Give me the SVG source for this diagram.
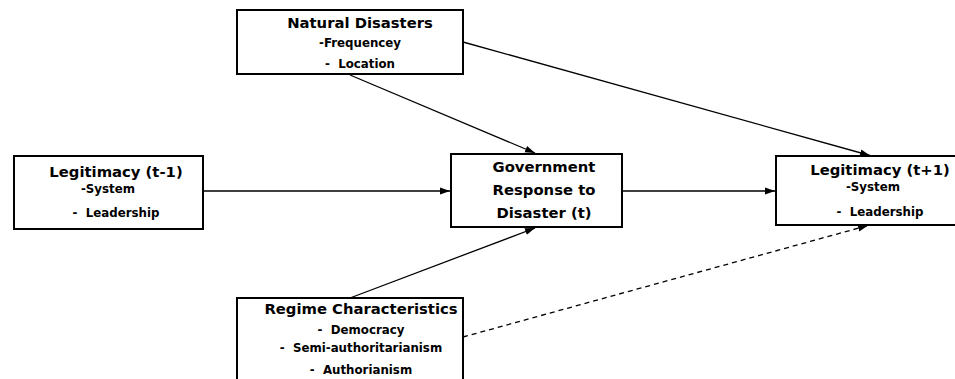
<svg xmlns="http://www.w3.org/2000/svg" width="955" height="379" viewBox="0 0 955 379">
<style>
.box{fill:#fff;stroke:#000;stroke-width:2}
.t{font-family:"DejaVu Sans",sans-serif;font-weight:bold;font-size:14.8px;text-anchor:middle;fill:#000}
.s{font-family:"DejaVu Sans",sans-serif;font-weight:bold;font-size:11.8px;text-anchor:middle;fill:#000}
.c{fill:none;stroke:#000;stroke-width:1.3}
.d{stroke-dasharray:5 4}
</style>
<defs>
<marker id="ah" markerUnits="userSpaceOnUse" markerWidth="11" markerHeight="9" refX="10" refY="4.5" orient="auto">
<path d="M0,1 L10,4.5 L0,8 Z" fill="#000"/>
</marker>
</defs>
<rect width="955" height="379" fill="#fff"/>
<g id="connectors">
<line class="c" x1="350" y1="75" x2="535" y2="153" marker-end="url(#ah)"/>
<line class="c" x1="463" y1="42" x2="870" y2="155.5" marker-end="url(#ah)"/>
<line class="c" x1="203" y1="191" x2="450" y2="191" marker-end="url(#ah)"/>
<line class="c" x1="622" y1="191" x2="775" y2="191" marker-end="url(#ah)"/>
<line class="c" x1="350" y1="298" x2="535" y2="228" marker-end="url(#ah)"/>
<line class="c d" x1="463" y1="337" x2="868" y2="225.5" marker-end="url(#ah)"/>
</g>
<g id="natural-disasters">
<rect class="box" x="237" y="10" width="226" height="64"/>
<text class="t" x="360" y="28">Natural Disasters</text>
<text class="s" x="360" y="47">-Frequencey</text>
<text class="s" x="360" y="68">-&#160; Location</text>
</g>
<g id="legitimacy-t-1">
<rect class="box" x="14" y="156" width="189" height="73"/>
<text class="t" x="116" y="177">Legitimacy (t-1)</text>
<text class="s" x="108" y="193">-System</text>
<text class="s" x="116" y="217">-&#160; Leadership</text>
</g>
<g id="government-response">
<rect class="box" x="451" y="154" width="171" height="73"/>
<text class="t" x="544" y="172">Government</text>
<text class="t" x="544" y="195">Response to</text>
<text class="t" x="544" y="218">Disaster (t)</text>
</g>
<g id="legitimacy-t1">
<rect class="box" x="776" y="156" width="189" height="69"/>
<text class="t" x="880" y="175">Legitimacy (t+1)</text>
<text class="s" x="873" y="191">-System</text>
<text class="s" x="880" y="216">-&#160; Leadership</text>
</g>
<g id="regime-characteristics">
<rect class="box" x="237" y="298" width="226" height="95"/>
<text class="t" x="361" y="314">Regime Characteristics</text>
<text class="s" x="361" y="334">-&#160; Democracy</text>
<text class="s" x="361" y="352">-&#160; Semi-authoritarianism</text>
<text class="s" x="361" y="374">-&#160; Authorianism</text>
</g>
</svg>
